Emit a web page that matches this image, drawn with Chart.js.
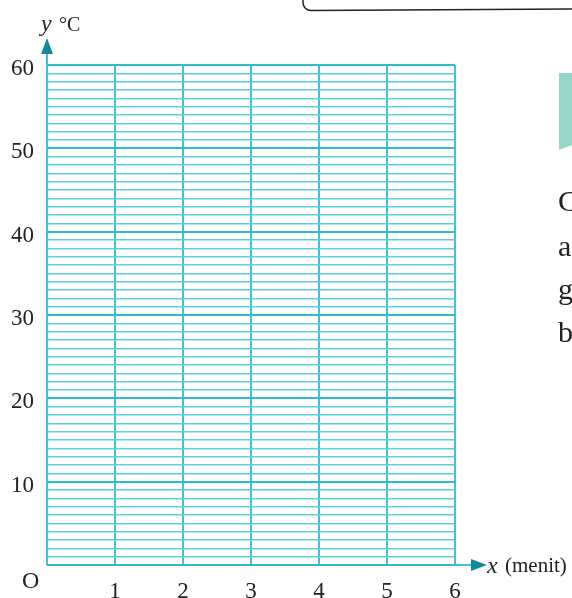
<!DOCTYPE html>
<html>
<head>
<meta charset="utf-8">
<script src="https://cdn.jsdelivr.net/npm/chart.js@4"></script>
<style>
  body { margin: 0; background: #fff; }
</style>
</head>
<body>
<canvas id="grafikSuhu" width="572" height="598"></canvas>
<script>
// sumbu x: waktu (menit), sumbu y: suhu (°C) -- grafik masih kosong
const xRange = [0, 6];
const yRange = [0, 60];
const xTickLabels = [1, 2, 3, 4, 5, 6];
const yTickLabels = [10, 20, 30, 40, 50, 60];
const suhu = []; // belum ada titik data

const gridColor = '#3fc2d9';
const arrowColor = '#12899b';
const serif = '"Liberation Serif", "DejaVu Serif", serif';

// panah sumbu, label sumbu dan sisa halaman buku
const hiasan = {
    id: 'hiasan',
    afterDraw(chart) {
        const { ctx, chartArea: a, scales: { x, y } } = chart;
        const x0 = x.getPixelForValue(0);
        const y0 = y.getPixelForValue(0);
        ctx.save();

        ctx.strokeStyle = gridColor;
        ctx.lineWidth = 2;
        ctx.beginPath();
        ctx.moveTo(x0, a.top);
        ctx.lineTo(x0, 50);
        ctx.moveTo(a.right, y0);
        ctx.lineTo(476, y0);
        ctx.stroke();

        ctx.fillStyle = arrowColor;
        ctx.beginPath();
        ctx.moveTo(x0, 38);
        ctx.lineTo(x0 - 6, 54);
        ctx.lineTo(x0 + 6, 54);
        ctx.closePath();
        ctx.fill();
        ctx.beginPath();
        ctx.moveTo(487, y0);
        ctx.lineTo(471, y0 - 6);
        ctx.lineTo(471, y0 + 6);
        ctx.closePath();
        ctx.fill();

        ctx.fillStyle = '#222';
        ctx.textBaseline = 'alphabetic';
        ctx.textAlign = 'left';
        ctx.font = 'italic 24px ' + serif;
        ctx.fillText('y', 41, 31);
        ctx.fillText('x', 487, 573);
        ctx.font = '20px ' + serif;
        ctx.fillText('°C', 59, 31);
        ctx.font = '21px ' + serif;
        ctx.fillText('(menit)', 505, 572);
        ctx.font = '24px ' + serif;
        ctx.fillText('O', 22, 588);

        // kotak dan teks halaman yang terpotong
        ctx.strokeStyle = '#222';
        ctx.lineWidth = 1.5;
        ctx.beginPath();
        ctx.moveTo(303, 0);
        ctx.lineTo(303, 3);
        ctx.arcTo(303, 10.5, 311, 10.5, 8);
        ctx.lineTo(572, 9);
        ctx.stroke();

        ctx.fillStyle = '#97d5c9';
        ctx.beginPath();
        ctx.moveTo(559, 73);
        ctx.lineTo(572, 73);
        ctx.lineTo(572, 145);
        ctx.lineTo(559, 150);
        ctx.closePath();
        ctx.fill();

        ctx.fillStyle = '#222';
        ctx.font = '30px ' + serif;
        ctx.fillText('C', 558, 211);
        ctx.fillText('a', 558, 256);
        ctx.fillText('g', 558, 299);
        ctx.fillText('b', 558, 342);
        ctx.restore();
    }
};

const ctx = document.getElementById('grafikSuhu').getContext('2d');
const grafikSuhu = new Chart(ctx, {
    type: 'scatter',
    data: {
        datasets: [{
            label: 'Suhu',
            data: suhu,
            pointRadius: 0
        }]
    },
    options: {
        responsive: false,
        animation: false,
        devicePixelRatio: 1,
        layout: { padding: { top: 65, right: 117, left: 0, bottom: 0 } },
        plugins: { legend: { display: false }, tooltip: { enabled: false } },
        scales: {
            x: {
                type: 'linear',
                min: xRange[0],
                max: xRange[1],
                afterFit: s => { s.height = 33; },
                border: { display: false },
                grid: { color: gridColor, lineWidth: 2, drawTicks: false },
                ticks: {
                    stepSize: 1,
                    autoSkip: false,
                    maxRotation: 0,
                    padding: 13,
                    color: '#222',
                    font: { family: serif, size: 23 },
                    callback: v => xTickLabels.includes(v) ? v : ''
                }
            },
            y: {
                type: 'linear',
                min: yRange[0],
                max: yRange[1],
                afterFit: s => { s.width = 47; },
                border: { display: false },
                grid: {
                    color: c => c.tick.value % 10 === 0 ? '#2fbad3' : '#5ccce1',
                    lineWidth: c => c.tick.value % 10 === 0 ? 2 : 1.4,
                    drawTicks: false
                },
                ticks: {
                    stepSize: 1,
                    maxTicksLimit: 100,
                    autoSkip: false,
                    padding: 13,
                    labelOffset: 4,
                    color: '#222',
                    font: { family: serif, size: 23 },
                    callback: v => yTickLabels.includes(v) ? v : ''
                }
            }
        }
    },
    plugins: [hiasan]
});
</script>
</body>
</html>
